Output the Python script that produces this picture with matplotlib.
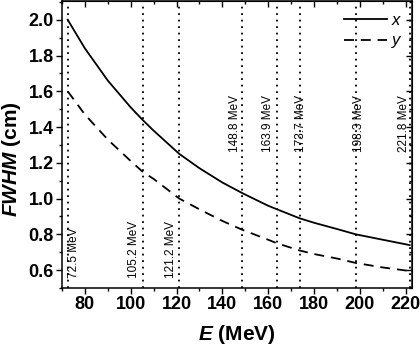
import matplotlib
matplotlib.use("Agg")
import matplotlib.pyplot as plt
from matplotlib.ticker import MultipleLocator

plt.rcParams["font.family"] = ["Liberation Sans", "DejaVu Sans"]
plt.rcParams["mathtext.fontset"] = "custom"
plt.rcParams["mathtext.rm"] = "Liberation Sans:bold"
plt.rcParams["mathtext.bfit"] = "Liberation Sans:italic:bold"
plt.rcParams["mathtext.it"] = "Liberation Sans:italic"

# energies (MeV) and FWHM (cm)
energy = [72.5, 80, 90, 100, 105.2, 110, 121.2, 130, 140, 148.8,
          160, 163.9, 173.7, 180, 190, 198.3, 210, 221.8]
fwhm_x = [2.00, 1.84, 1.66, 1.51, 1.44, 1.38, 1.25, 1.17, 1.09, 1.03,
          0.96, 0.94, 0.89, 0.865, 0.83, 0.80, 0.77, 0.74]
fwhm_y = [1.60, 1.47, 1.33, 1.21, 1.15, 1.11, 1.00, 0.94, 0.875, 0.825,
          0.77, 0.75, 0.71, 0.69, 0.665, 0.64, 0.615, 0.595]

# marked beam energies
marks = [72.5, 105.2, 121.2, 148.8, 163.9, 173.7, 198.3, 221.8]
mark_labels = ["72.5 MeV", "105.2 MeV", "121.2 MeV", "148.8 MeV",
               "163.9 MeV", "173.7 MeV", "198.3 MeV", "221.8 MeV"]

# label placement (style only): x offset in px, low/high row
label_dx = [6.5, -8.5, -8, -7.5, -9, 1, 3, -6]
label_low = [True, True, True, False, False, False, False, False]

fig = plt.figure(figsize=(4.2, 3.5), dpi=100)
ax = fig.add_axes([62 / 420, 1 - 288 / 350, 350 / 420, 287 / 350])

ax.plot(energy, fwhm_x, color="black", lw=1.3, label="x")
ax.plot(energy, fwhm_y, color="black", lw=1.3, dashes=(5.5, 3.8), label="y")

for e, lab, dx, low in zip(marks, mark_labels, label_dx, label_low):
    ax.axvline(e, color="black", lw=1.3, linestyle=(0, (1, 2.6)))
    ax.annotate(lab, xy=(e, 0.558 if low else 1.262), xytext=(dx / 1.389, 0),
                textcoords="offset points", rotation=90, ha="center",
                va="bottom", fontsize=8.5)

ax.set_xlim(70, 222.8)
ax.set_ylim(0.5, 2.105)
ax.xaxis.set_major_locator(MultipleLocator(20))
ax.xaxis.set_minor_locator(MultipleLocator(10))
ax.yaxis.set_major_locator(MultipleLocator(0.2))
ax.yaxis.set_minor_locator(MultipleLocator(0.1))
ax.tick_params(which="major", direction="out", length=4, width=1)
ax.tick_params(which="minor", direction="out", length=2.5, width=1)
ax.tick_params(labelsize=13, pad=2)
for lbl in ax.get_xticklabels() + ax.get_yticklabels():
    lbl.set_fontweight("bold")

top = ax.secondary_xaxis("top")
top.xaxis.set_major_locator(MultipleLocator(20))
top.xaxis.set_minor_locator(MultipleLocator(10))
top.tick_params(which="major", direction="in", length=4, width=1, labeltop=False)
top.tick_params(which="minor", direction="in", length=2.5, width=1)
right = ax.secondary_yaxis("right")
right.yaxis.set_major_locator(MultipleLocator(0.2))
right.yaxis.set_minor_locator(MultipleLocator(0.1))
right.tick_params(which="major", direction="in", length=4, width=1, labelright=False)
right.tick_params(which="minor", direction="in", length=2.5, width=1)

for s in ax.spines.values():
    s.set_linewidth(1.1)

ax.set_xlabel(r"$\mathbfit{E}$ (MeV)", fontsize=15, fontweight="bold", labelpad=7)
ax.set_ylabel(r"$\mathbfit{FWHM}$ (cm)", fontsize=15, fontweight="bold")
ax.yaxis.set_label_coords(-0.112, 0.449)

leg = ax.legend(loc="upper right", frameon=False, handlelength=2.6,
                handletextpad=0.3, labelspacing=0.35, borderaxespad=0.3,
                prop={"size": 12, "style": "italic"})

fig.savefig("out.png", dpi=100)
